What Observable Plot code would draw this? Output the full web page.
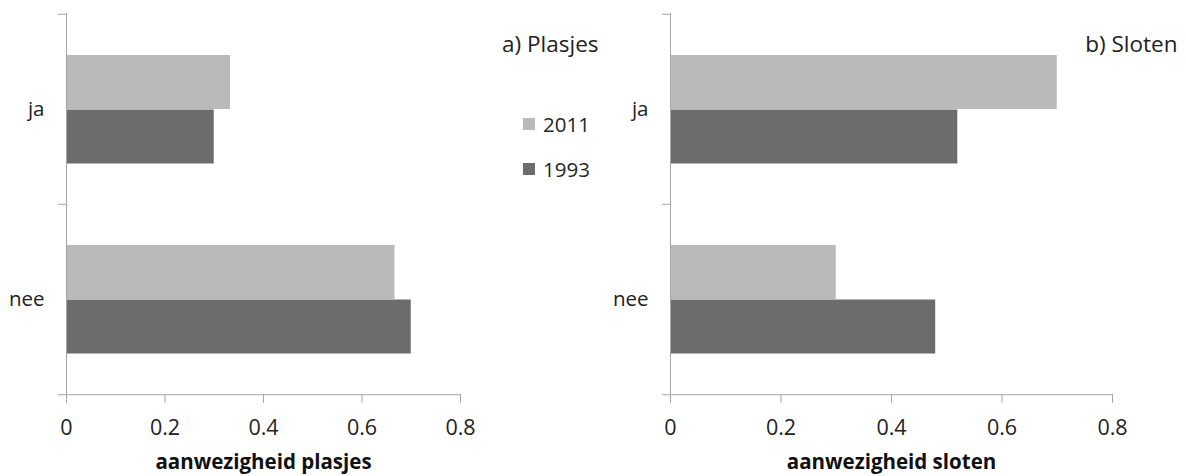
<!DOCTYPE html>
<html>
<head>
<meta charset="utf-8">
<script src="https://cdn.jsdelivr.net/npm/d3@7"></script>
<script src="https://cdn.jsdelivr.net/npm/@observablehq/plot@0.6"></script>
<style>
  html, body { margin: 0; padding: 0; background: #fff; }
  #wrap { position: relative; width: 1186px; height: 476px; font-family: "Open Sans", sans-serif; color: #262626; }
  #wrap svg { position: absolute; top: 0; overflow: visible; }
  .legend-item { position: absolute; left: 523px; height: 24px; display: flex; align-items: center; font-size: 20.5px; }
  .legend-item span.sw { width: 12px; height: 12px; margin-right: 8px; display: inline-block; }
</style>
</head>
<body>
<div id="wrap"></div>
<script>
// ---- data ----
const categories = ["ja", "nee"];
const years = ["2011", "1993"];
const colors = ["#bababa", "#6c6c6c"];
const xTicks = [0, 0.2, 0.4, 0.6, 0.8];

const plasjes2011 = [0.333, 0.667];
const plasjes1993 = [0.30, 0.70];
const sloten2011 = [0.70, 0.30];
const sloten1993 = [0.52, 0.48];

const panelTitles = ["a) Plasjes", "b) Sloten"];
const axisTitles = ["aanwezigheid plasjes", "aanwezigheid sloten"];

// ---- layout ----
const H = 476, MT = 13, MB = 82;
const bw = (H - MT - MB) / categories.length;
const axisColor = "#a6a6a6";
const textColor = "#222222";

function rows(v2011, v1993) {
  return categories.flatMap((c, i) => [
    {cat: c, year: years[0], value: v2011[i]},
    {cat: c, year: years[1], value: v1993[i]}
  ]);
}

function panel({data, width, marginLeft, marginRight, title, titleDx, axisTitle}) {
  return Plot.plot({
    width, height: H,
    marginTop: MT, marginBottom: MB, marginLeft, marginRight,
    style: {fontFamily: "'Open Sans', sans-serif", color: textColor, background: "transparent"},
    x: {domain: d3.extent(xTicks)},
    y: {domain: categories, padding: 0},
    color: {domain: years, range: colors},
    marks: [
      Plot.barX(data.filter(d => d.year === years[0]), {x: "value", y: "cat", fill: "year", insetTop: 41, insetBottom: bw - 41 - 54.5}),
      Plot.barX(data.filter(d => d.year === years[1]), {x: "value", y: "cat", fill: "year", insetTop: 95.5, insetBottom: bw - 95.5 - 54.5}),
      Plot.ruleX([0], {stroke: axisColor}),
      Plot.ruleY(categories, {y: d => d, x1: 0, x2: 0, insetLeft: -8, dy: -bw / 2, stroke: axisColor}),
      Plot.ruleY(categories.slice(-1), {y: d => d, x1: 0, x2: d3.max(xTicks), insetLeft: -8, dy: bw / 2, stroke: axisColor}),
      Plot.axisX({ticks: xTicks, tickSize: 9, tickPadding: 16, tickFormat: d => String(d), label: null, fontSize: 21.5, stroke: axisColor, color: textColor}),
      Plot.axisY({tickSize: 0, tickPadding: 22, label: null, fontSize: 20.5, color: textColor}),
      Plot.text([axisTitle], {frameAnchor: "bottom", dy: 74, fontSize: 20.5, fontWeight: "bold", fill: "#111"}),
      Plot.text([title], {frameAnchor: "top-right", textAnchor: "end", dx: titleDx, dy: 23, fontSize: 22.5, fill: textColor})
    ]
  });
}

const wrap = document.getElementById("wrap");

const left = panel({data: rows(plasjes2011, plasjes1993), width: 600, marginLeft: 66, marginRight: 140,
  title: panelTitles[0], titleDx: 138, axisTitle: axisTitles[0]});
left.style.left = "0px";
wrap.appendChild(left);

const right = panel({data: rows(sloten2011, sloten1993), width: 586, marginLeft: 70, marginRight: 74,
  title: panelTitles[1], titleDx: 65, axisTitle: axisTitles[1]});
right.style.left = "600px";
wrap.appendChild(right);

// ---- legend (vertical swatches) ----
const colorScale = left.scale("color");
const legendTops = [112, 157];
years.forEach((y, i) => {
  const item = document.createElement("div");
  item.className = "legend-item";
  item.style.top = legendTops[i] + "px";
  const sw = document.createElement("span");
  sw.className = "sw";
  sw.style.background = colorScale.apply(y);
  item.appendChild(sw);
  item.appendChild(document.createTextNode(y));
  wrap.appendChild(item);
});
</script>
</body>
</html>
